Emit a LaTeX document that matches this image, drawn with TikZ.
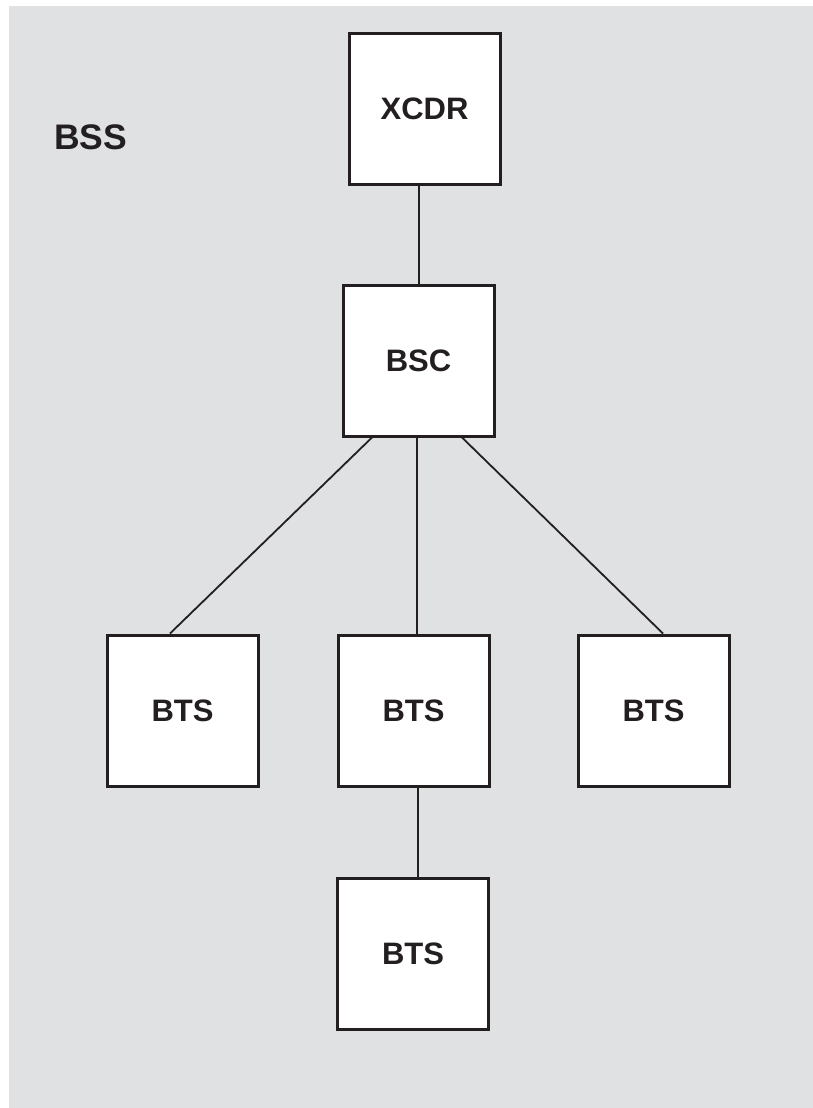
\documentclass[tikz,border=0pt]{standalone}
\usepackage{fontspec}
\setmainfont{Liberation Sans}
\definecolor{bg}{HTML}{E0E1E3}
\definecolor{ink}{HTML}{231F20}
\begin{document}
\begin{tikzpicture}[x=1pt,y=-1pt,
  box/.style={draw=ink,line width=3pt,fill=white,minimum width=151pt,minimum height=151pt,inner sep=0pt,font=\fontsize{31}{31}\selectfont\bfseries,text=ink},
  link/.style={draw=ink,line width=1.8pt}]
\useasboundingbox (0,0) rectangle (813,1108);
\fill[bg] (9,6) rectangle (813,1108);
\node[font=\fontsize{35.5}{35.5}\selectfont\bfseries,text=ink] (bss) at (90.5,137) {BSS};
\node[box] (xcdr) at (424.5,109) {XCDR};
\node[box] (bsc) at (418.5,360.5) {BSC};
\node[box] (btsl) at (182.5,710.5) {BTS};
\node[box] (btsm) at (413.5,710.5) {BTS};
\node[box] (btsr) at (653.5,710.5) {BTS};
\node[box] (btsb) at (413,954) {BTS};
\draw[link] ([xshift=-5.5pt]xcdr.south) -- ([xshift=0.5pt]bsc.north);
\draw[link] ([xshift=-46.5pt]bsc.south) -- ([xshift=-12.5pt]btsl.north);
\draw[link] ([xshift=-1.5pt]bsc.south) -- ([xshift=3.5pt]btsm.north);
\draw[link] ([xshift=43.5pt]bsc.south) -- ([xshift=9.5pt]btsr.north);
\draw[link] ([xshift=4.5pt]btsm.south) -- ([xshift=5pt]btsb.north);
\end{tikzpicture}
\end{document}
